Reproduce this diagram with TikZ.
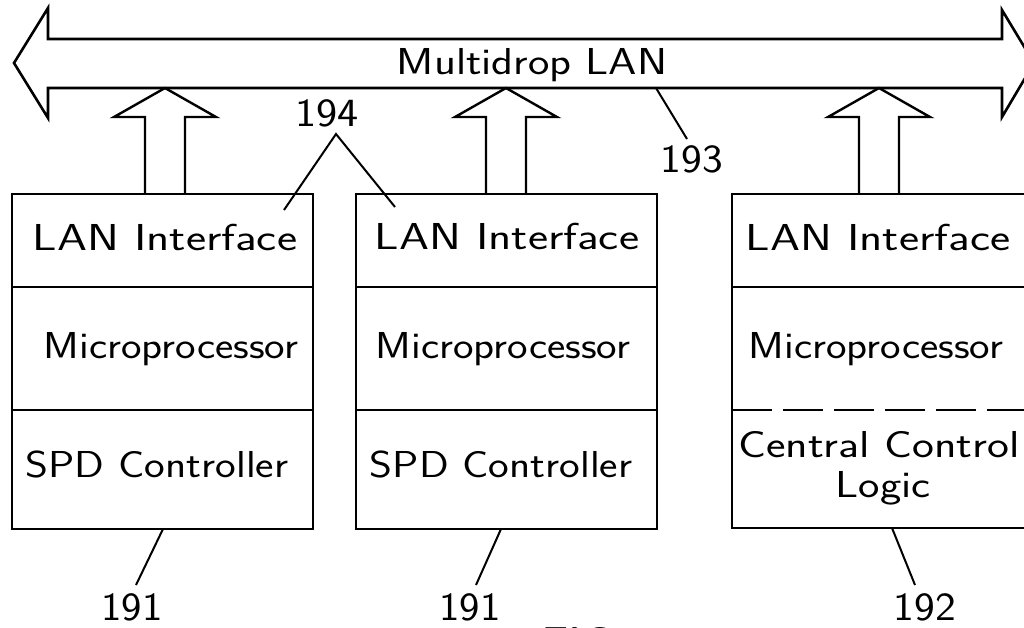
\documentclass[tikz,border=0pt]{standalone}
\usetikzlibrary{calc}
\newcommand\lbl{\sffamily\fontsize{37.5}{40}\selectfont}
\newcommand\nbl{\sffamily\fontsize{40}{42}\selectfont}
\newcommand\T[2][1.12]{\scalebox{#1}[1]{#2}}
\begin{document}
\begin{tikzpicture}[x=1pt,y=-1pt,line width=2.4pt,line join=miter,
  txt/.style={font=\lbl,inner sep=0pt,anchor=base},
  num/.style={font=\nbl,inner sep=0pt,anchor=base},
  leader/.style={line width=2pt},
  unit/.style={draw,line width=2.4pt,inner sep=0pt,minimum width=301pt,minimum height=335pt},
  busarrow/.style={line width=2.6pt,line join=miter}]
\useasboundingbox (0,0) rectangle (1024,627);
\clip (0,0) rectangle (1024,627);

% Multidrop LAN bus
\draw[busarrow] (14,63) -- (48,8) -- (48,39) -- (1002,39) -- (1002,10) -- (1034,63)
  -- (1002,117) -- (1002,88) -- (48,88) -- (48,118) -- cycle;
\node[txt] (bus) at (532,74) {\T[1.21]{Multidrop LAN}};

% units
\node[unit] (box1) at (162.5,361.5) {};
\node[unit] (box2) at (506.5,361.5) {};
\node[unit,minimum width=308pt,minimum height=334pt,draw=none] (box3) at (886,361) {};
\draw (1040,194) -- (732,194) -- (732,528) -- (1040,528);

% dividers
\draw (12,287) -- (313,287);
\draw (12,410) -- (313,410);
\draw (356,287) -- (657,287);
\draw (356,410) -- (657,410);
\draw (732,287) -- (1040,287);
\draw[dash pattern=on 40pt off 11pt] (732,410) -- (1040,410);

% up arrows from units into the bus
\foreach \cx in {165,506,879}{
  \draw ({\cx-20},194) -- ({\cx-20},117) -- ({\cx-51},117) -- (\cx,88)
    -- ({\cx+51},117) -- ({\cx+20},117) -- ({\cx+20},194);
}

% box texts
\node[txt] (lan1) at (165,250) {\T[1.28]{LAN Interface}};
\node[txt] (mp1) at (171,358) {\T[1.16]{Microprocessor}};
\node[txt] (spd1) at (157,477) {\T[1.17]{SPD Controller}};
\node[txt] (lan2) at (507,249) {\T[1.28]{LAN Interface}};
\node[txt] (mp2) at (503,358) {\T[1.16]{Microprocessor}};
\node[txt] (spd2) at (501,477) {\T[1.17]{SPD Controller}};
\node[txt] (lan3) at (878,250) {\T[1.28]{LAN Interface}};
\node[txt] (mp3) at (876,358) {\T[1.16]{Microprocessor}};
\node[txt] (ccl1) at (879,457) {\T[1.24]{Central Control}};
\node[txt] (ccl2) at (883,497) {\T[1.21]{Logic}};

% reference numerals and leaders
\node[num] (n194) at (327,126) {\T[1.12]{194}};
\coordinate (apex194) at (336,134);
\coordinate (e194a) at (284,210);
\coordinate (e194b) at (395,207);
\draw[leader] (e194a) -- (apex194) -- (e194b);

\node[num] (n193) at (692,172) {\T[1.1]{193}};
\coordinate (s193) at (656,88);
\coordinate (e193) at (687,139);
\draw[leader] (s193) -- (e193);

\node[num] (n191a) at (132,620) {\T[1.08]{191}};
\coordinate (s191a) at (163,529);
\coordinate (e191a) at (136,585);
\draw[leader] (s191a) -- (e191a);

\node[num] (n191b) at (470,620) {\T[1.08]{191}};
\coordinate (s191b) at (501,529);
\coordinate (e191b) at (476,585);
\draw[leader] (s191b) -- (e191b);

\node[num] (n192) at (925,620) {\T[1.1]{192}};
\coordinate (s192) at (892,528);
\coordinate (e192) at (915,585);
\draw[leader] (s192) -- (e192);

% figure caption (cut off at the lower edge, as in the reference)
\node[anchor=base west,inner sep=0pt,font=\sffamily\fontsize{46}{50}\selectfont] (fig) at (540,659) {\T[1.1]{FIG. 19}};
\end{tikzpicture}
\end{document}
